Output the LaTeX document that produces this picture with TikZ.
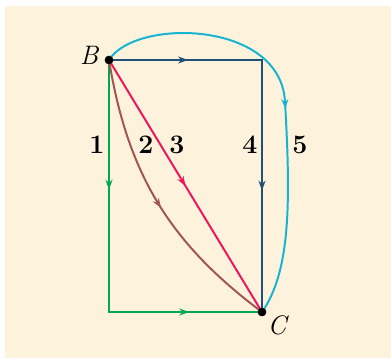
\documentclass[tikz,border=0pt]{standalone}
\usepackage{fontspec}
\usetikzlibrary{arrows.meta,decorations.markings}
\definecolor{cream}{RGB}{253,242,220}
\definecolor{pathgreen}{RGB}{0,166,80}
\definecolor{pathblue}{RGB}{35,78,118}
\definecolor{pathred}{RGB}{240,20,90}
\definecolor{pathbrown}{RGB}{160,85,80}
\definecolor{pathcyan}{RGB}{20,180,210}
\tikzset{
  route/.style={line width=1.4pt},
  arrowat/.style={postaction={decorate},decoration={markings,
    mark=at position #1 with {\arrow{Stealth[length=7pt,width=5pt]}}}},
  dot/.style={circle,fill=black,inner sep=0pt,minimum size=6pt},
  numlabel/.style={font=\fontsize{19}{23}\selectfont\bfseries},
  ptlabel/.style={font=\fontsize{19}{23}\selectfont\itshape}
}

\begin{document}
\begin{tikzpicture}[x=0.025cm,y=-0.025cm]
\useasboundingbox (0,0) rectangle (391,358);
\fill[cream] (5,6) rectangle (391,358);
\coordinate (G) at (109,312);
\coordinate (K) at (262,60);
\coordinate (P) at (285,102);
\node[dot] (B) at (109,60) {};
\node[dot] (C) at (262,312) {};
% paths from B to C
\draw[route,pathgreen,line join=miter,
  postaction={decorate},decoration={markings,
    mark=at position 0.32 with {\arrow{Stealth[length=7pt,width=5pt]}},
    mark=at position 0.82 with {\arrow{Stealth[length=7pt,width=5pt]}}}]
  (B.center) -- (G) -- (C.center);
\draw[route,pathblue,line join=miter,
  postaction={decorate},decoration={markings,
    mark=at position 0.195 with {\arrow{Stealth[length=7pt,width=5pt]}},
    mark=at position 0.70 with {\arrow{Stealth[length=7pt,width=5pt]}}}]
  (B.center) -- (K) -- (C.center);
\draw[route,pathbrown,arrowat=0.52] (B.center) to[bend right=22] (C.center);
\draw[route,pathred,arrowat=0.5] (B.center) -- (C.center);
\draw[route,pathcyan,arrowat=0.52] (B.center) .. controls (135,18) and (281,20) .. (P)
  .. controls (291,205) and (290,272) .. (C.center);
\node[dot] at (B) {};
\node[dot] at (C) {};
% labels
\node[ptlabel] (lB) at (89,55) {B};
\node[ptlabel] (lC) at (277,325) {C};
\node[numlabel] (n1) at (97,145) {1};
\node[numlabel] (n2) at (146,145) {2};
\node[numlabel] (n3) at (177,145) {3};
\node[numlabel] (n4) at (250,145) {4};
\node[numlabel] (n5) at (300,145) {5};
\end{tikzpicture}
\end{document}
